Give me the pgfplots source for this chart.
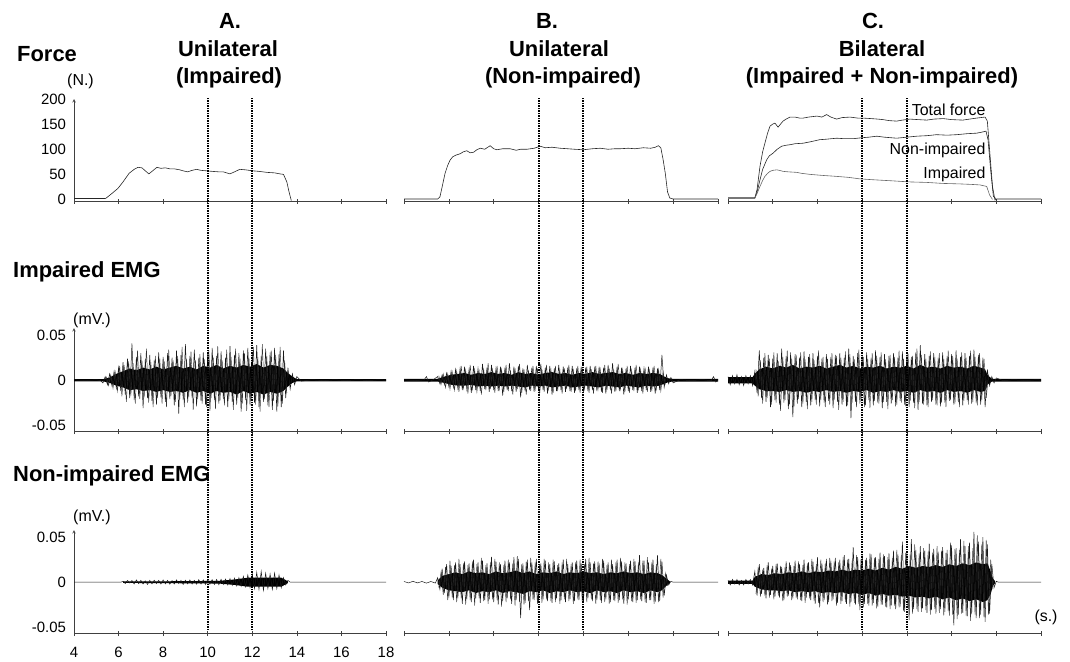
\documentclass[border=0pt]{standalone}
\usepackage{pgfplots}
\pgfplotsset{compat=1.18}
\usepackage{pgfplotstable}
\usepackage{fontspec}
\setmainfont{Liberation Sans}

% ---------------- Force data (N) ----------------
\pgfplotstableread[row sep=\\]{x y\\
4 2\\ 5.4 2\\ 5.45 3\\ 5.7 12\\ 5.97 22\\ 6.2 35\\ 6.47 52\\ 6.7 60\\ 6.87 64\\ 7.05 63\\ 7.2 57\\ 7.36 51\\ 7.5 56\\ 7.72 64\\ 7.9 62\\ 8.1 63\\ 8.3 61\\ 8.5 61\\ 8.75 59\\ 8.9 57\\ 9.1 55\\ 9.3 58\\ 9.5 60\\ 9.7 58\\ 9.95 57\\ 10.2 56\\ 10.5 55\\ 10.7 55\\ 11.0 51\\ 11.2 55\\ 11.44 60\\ 11.7 59\\ 12.03 57\\ 12.3 56\\ 12.65 54\\ 13.0 53\\ 13.24 51\\ 13.4 50\\ 13.55 35\\ 13.65 15\\ 13.75 -2\\
}\fA
\pgfplotstableread[row sep=\\]{x y\\
4 1\\ 5.5 1\\ 5.6 5\\ 5.7 25\\ 5.83 52\\ 5.95 68\\ 6.05 78\\ 6.17 85\\ 6.3 88\\ 6.5 91\\ 6.65 95\\ 6.8 97\\ 6.95 93\\ 7.1 94\\ 7.25 99\\ 7.4 102\\ 7.6 100\\ 7.84 107\\ 8.0 101\\ 8.14 99\\ 8.4 101\\ 8.73 101\\ 9.0 98\\ 9.2 100\\ 9.48 100\\ 9.8 102\\ 10.07 106\\ 10.3 103\\ 10.6 104\\ 10.96 102\\ 11.3 101\\ 11.6 100\\ 12.0 99\\ 12.4 101\\ 12.75 102\\ 13.1 100\\ 13.4 101\\ 13.64 101\\ 14.0 102\\ 14.3 101\\ 14.67 103\\ 15.0 102\\ 15.2 104\\ 15.34 107\\ 15.45 103\\ 15.55 80\\ 15.65 52\\ 15.75 15\\ 15.85 3\\ 16.0 1\\ 18 1\\
}\fB
\pgfplotstableread[row sep=\\]{x y\\
4 3\\ 5.2 3\\ 5.3 20\\ 5.43 66\\ 5.55 95\\ 5.65 112\\ 5.77 132\\ 5.88 146\\ 6.0 150\\ 6.1 152\\ 6.24 144\\ 6.35 150\\ 6.46 156\\ 6.6 160\\ 6.77 164\\ 7.0 164\\ 7.2 162\\ 7.36 162\\ 7.6 164\\ 7.98 166\\ 8.2 164\\ 8.41 169\\ 8.6 164\\ 8.86 160\\ 9.1 163\\ 9.46 164\\ 9.8 162\\ 10.04 162\\ 10.4 161\\ 10.7 160\\ 10.93 159\\ 11.2 157\\ 11.54 156\\ 11.8 158\\ 12.14 160\\ 12.5 159\\ 12.89 158\\ 13.2 160\\ 13.63 161\\ 14.0 159\\ 14.5 158\\ 14.8 160\\ 15.12 162\\ 15.3 163\\ 15.5 164\\ 15.6 156\\ 15.7 99\\ 15.83 26\\ 15.94 -1\\ 16.03 1\\ 18 1\\
}\fCtot
\pgfplotstableread[row sep=\\]{x y\\
4 3\\ 5.2 3\\ 5.3 15\\ 5.43 39\\ 5.55 60\\ 5.73 79\\ 5.85 87\\ 6.01 92\\ 6.2 100\\ 6.4 106\\ 6.6 108\\ 6.77 109\\ 7.0 111\\ 7.36 112\\ 7.7 115\\ 8.1 119\\ 8.4 120\\ 8.86 122\\ 9.2 121\\ 9.6 121\\ 10.0 123\\ 10.3 124\\ 10.65 126\\ 11.0 124\\ 11.54 122\\ 12.0 124\\ 12.44 126\\ 12.9 127\\ 13.33 129\\ 13.8 128\\ 14.23 129\\ 14.7 131\\ 15.12 132\\ 15.35 134\\ 15.54 136\\ 15.63 119\\ 15.76 53\\ 15.87 6\\ 16.0 1\\
}\fCnon
\pgfplotstableread[row sep=\\]{x y\\
4 3\\ 5.2 3\\ 5.3 12\\ 5.43 26\\ 5.55 38\\ 5.65 46\\ 5.77 52\\ 5.88 56\\ 6.0 58\\ 6.18 59\\ 6.3 58\\ 6.46 56\\ 6.7 55\\ 7.07 54\\ 7.3 52\\ 7.67 50\\ 8.2 48\\ 8.86 46\\ 9.4 44\\ 9.9 41\\ 10.6 39\\ 11.4 37\\ 12.1 35\\ 12.89 34\\ 13.6 32\\ 14.38 31\\ 14.9 30\\ 15.27 29\\ 15.57 26\\ 15.7 9\\ 15.83 0\\
}\fCimp

% ---------------- Impaired EMG (mV) ----------------
\pgfplotstableread[row sep=\\]{x y\\
4.0 0.0005\\ 4.5 -0.0005\\ 5.0 0.0005\\ 5.2 -0.0005\\
5.3 -0.003\\ 5.4 0.004\\ 5.5 -0.005\\ 5.6 0.007\\ 5.7 -0.006\\ 5.8 0.01\\ 5.9 -0.009\\ 6.0 0.014\\ 6.1 -0.012\\ 6.2 0.02\\ 6.3 -0.016\\ 6.4 0.024\\ 6.5 -0.02\\ 6.6 0.041\\ 6.7 -0.022\\ 6.8 0.026\\ 6.9 -0.018\\ 7.0 0.03\\ 7.1 -0.031\\ 7.2 0.024\\ 7.3 -0.02\\ 7.4 0.028\\ 7.5 -0.023\\ 7.6 0.022\\ 7.7 -0.027\\ 7.8 0.031\\ 7.9 -0.019\\ 8.0 0.026\\ 8.1 -0.024\\ 8.2 0.03\\ 8.3 -0.021\\ 8.4 0.025\\ 8.5 -0.028\\ 8.6 0.033\\ 8.7 -0.037\\ 8.8 0.028\\ 8.9 -0.022\\ 9.0 0.04\\ 9.1 -0.025\\ 9.2 0.027\\ 9.3 -0.02\\ 9.4 0.034\\ 9.5 -0.029\\ 9.6 0.025\\ 9.7 -0.023\\ 9.8 0.031\\ 9.9 -0.027\\ 10.0 0.029\\ 10.1 -0.034\\ 10.2 0.036\\ 10.3 -0.022\\ 10.4 0.027\\ 10.5 -0.026\\ 10.6 0.032\\ 10.7 -0.021\\ 10.8 0.025\\ 10.9 -0.03\\ 11.0 0.038\\ 11.1 -0.024\\ 11.2 0.028\\ 11.3 -0.027\\ 11.4 0.03\\ 11.5 -0.035\\ 11.6 0.033\\ 11.7 -0.022\\ 11.8 0.036\\ 11.9 -0.028\\ 12.0 0.03\\ 12.1 -0.025\\ 12.2 0.039\\ 12.3 -0.03\\ 12.4 0.027\\ 12.5 -0.024\\ 12.6 0.035\\ 12.7 -0.028\\ 12.8 0.031\\ 12.9 -0.033\\ 13.0 0.036\\ 13.1 -0.035\\ 13.2 0.029\\ 13.3 -0.03\\ 13.4 0.033\\ 13.5 -0.02\\ 13.6 0.014\\ 13.7 -0.01\\ 13.8 0.007\\ 13.9 -0.005\\ 14.0 0.004\\
14.2 -0.001\\ 14.7 0.0005\\ 15.2 -0.0005\\ 15.7 0.0005\\ 16.2 -0.0005\\ 16.7 0.0005\\ 17.2 -0.0005\\ 17.7 0.0005\\ 18.0 0\\
}\eAii
\pgfplotstableread[row sep=\\]{x y\\
5.45 0.004\\ 5.55 -0.006\\ 5.65 0.006\\ 5.75 -0.009\\ 5.85 0.009\\ 5.95 -0.012\\ 6.05 0.016\\ 6.15 -0.018\\ 6.25 0.017\\ 6.35 -0.024\\ 6.45 0.021\\ 6.55 -0.017\\ 6.65 0.019\\ 6.75 -0.026\\ 6.85 0.033\\ 6.95 -0.021\\ 7.05 0.022\\ 7.15 -0.019\\ 7.25 0.035\\ 7.35 -0.025\\ 7.45 0.02\\ 7.55 -0.03\\ 7.65 0.027\\ 7.75 -0.02\\ 7.85 0.024\\ 7.95 -0.026\\ 8.05 0.021\\ 8.15 -0.03\\ 8.25 0.034\\ 8.35 -0.018\\ 8.45 0.022\\ 8.55 -0.024\\ 8.65 0.027\\ 8.75 -0.021\\ 8.85 0.037\\ 8.95 -0.03\\ 9.05 0.024\\ 9.15 -0.019\\ 9.25 0.032\\ 9.35 -0.033\\ 9.45 0.022\\ 9.55 -0.021\\ 9.65 0.029\\ 9.75 -0.026\\ 9.85 0.023\\ 9.95 -0.03\\ 10.05 0.033\\ 10.15 -0.02\\ 10.25 0.025\\ 10.35 -0.032\\ 10.45 0.038\\ 10.55 -0.023\\ 10.65 0.022\\ 10.75 -0.028\\ 10.85 0.034\\ 10.95 -0.021\\ 11.05 0.026\\ 11.15 -0.033\\ 11.25 0.035\\ 11.35 -0.02\\ 11.45 0.024\\ 11.55 -0.026\\ 11.65 0.03\\ 11.75 -0.034\\ 11.85 0.025\\ 11.95 -0.022\\ 12.05 0.037\\ 12.15 -0.027\\ 12.25 0.026\\ 12.35 -0.035\\ 12.45 0.04\\ 12.55 -0.021\\ 12.65 0.027\\ 12.75 -0.03\\ 12.85 0.033\\ 12.95 -0.023\\ 13.05 0.028\\ 13.15 -0.029\\ 13.25 0.037\\ 13.35 -0.026\\ 13.45 0.022\\ 13.55 -0.014\\
}\eAiiB
\pgfplotstableread[row sep=\\]{x y\\
4.0 0.0012\\ 5.3 0.0012\\ 5.6 0.003\\ 5.9 0.007\\ 6.2 0.01\\ 6.5 0.013\\ 6.8 0.011\\ 7.1 0.014\\ 7.4 0.012\\ 7.7 0.015\\ 8.0 0.012\\ 8.3 0.014\\ 8.6 0.016\\ 8.9 0.013\\ 9.2 0.015\\ 9.5 0.012\\ 9.8 0.016\\ 10.1 0.014\\ 10.4 0.017\\ 10.7 0.013\\ 11.0 0.016\\ 11.3 0.014\\ 11.6 0.017\\ 11.9 0.015\\ 12.2 0.018\\ 12.5 0.014\\ 12.8 0.017\\ 13.1 0.016\\ 13.4 0.013\\ 13.6 0.008\\ 13.8 0.004\\ 14.0 0.0012\\ 18.0 0.0012\\
18.0 -0.0012\\ 14.0 -0.0012\\ 13.8 -0.003\\ 13.6 -0.007\\ 13.4 -0.012\\ 13.1 -0.015\\ 12.8 -0.013\\ 12.5 -0.016\\ 12.2 -0.013\\ 11.9 -0.015\\ 11.6 -0.012\\ 11.3 -0.016\\ 11.0 -0.013\\ 10.7 -0.014\\ 10.4 -0.012\\ 10.1 -0.015\\ 9.8 -0.012\\ 9.5 -0.014\\ 9.2 -0.011\\ 8.9 -0.014\\ 8.6 -0.012\\ 8.3 -0.013\\ 8.0 -0.011\\ 7.7 -0.013\\ 7.4 -0.011\\ 7.1 -0.012\\ 6.8 -0.01\\ 6.5 -0.011\\ 6.2 -0.008\\ 5.9 -0.006\\ 5.6 -0.003\\ 5.3 -0.0012\\ 4.0 -0.0012\\
}\bAii
\pgfplotstableread[row sep=\\]{x y\\
4.0 0.0005\\ 4.5 -0.0005\\ 4.9 0.0005\\ 5.0 0.004\\ 5.1 -0.002\\ 5.3 0.0005\\
5.5 0.004\\ 5.6 -0.004\\ 5.7 0.006\\ 5.8 -0.005\\ 5.9 0.008\\ 6.0 -0.007\\ 6.1 0.01\\ 6.2 -0.008\\ 6.3 0.012\\ 6.4 -0.009\\ 6.5 0.013\\ 6.6 -0.011\\ 6.7 0.015\\ 6.8 -0.01\\ 6.9 0.012\\ 7.0 -0.014\\ 7.1 0.016\\ 7.2 -0.011\\ 7.3 0.013\\ 7.4 -0.012\\ 7.5 0.018\\ 7.6 -0.01\\ 7.7 0.014\\ 7.8 -0.013\\ 7.9 0.017\\ 8.0 -0.011\\ 8.1 0.013\\ 8.2 -0.012\\ 8.3 0.015\\ 8.4 -0.017\\ 8.5 0.014\\ 8.6 -0.011\\ 8.7 0.019\\ 8.8 -0.012\\ 8.9 0.015\\ 9.0 -0.013\\ 9.1 0.016\\ 9.2 -0.019\\ 9.3 0.013\\ 9.4 -0.012\\ 9.5 0.017\\ 9.6 -0.011\\ 9.7 0.014\\ 9.8 -0.013\\ 9.9 0.016\\ 10.0 -0.012\\ 10.1 0.018\\ 10.2 -0.011\\ 10.3 0.014\\ 10.4 -0.015\\ 10.5 0.016\\ 10.6 -0.016\\ 10.7 0.013\\ 10.8 -0.012\\ 10.9 0.017\\ 11.0 -0.011\\ 11.1 0.015\\ 11.2 -0.013\\ 11.3 0.014\\ 11.4 -0.012\\ 11.5 0.016\\ 11.6 -0.014\\ 11.7 0.013\\ 11.8 -0.011\\ 11.9 0.015\\ 12.0 -0.013\\ 12.1 0.014\\ 12.2 -0.012\\ 12.3 0.016\\ 12.4 -0.011\\ 12.5 0.013\\ 12.6 -0.012\\ 12.7 0.015\\ 12.8 -0.013\\ 12.9 0.014\\ 13.0 -0.015\\ 13.1 0.017\\ 13.2 -0.011\\ 13.3 0.019\\ 13.4 -0.013\\ 13.5 0.015\\ 13.6 -0.012\\ 13.7 0.014\\ 13.8 -0.016\\ 13.9 0.013\\ 14.0 -0.012\\ 14.1 0.016\\ 14.2 -0.011\\ 14.3 0.014\\ 14.4 -0.014\\ 14.5 0.015\\ 14.6 -0.012\\ 14.7 0.013\\ 14.8 -0.011\\ 14.9 0.015\\ 15.0 -0.013\\ 15.1 0.014\\ 15.2 -0.015\\ 15.3 0.013\\ 15.4 -0.011\\ 15.5 0.028\\ 15.6 -0.008\\ 15.7 0.006\\ 15.8 -0.004\\ 15.9 0.003\\ 16.0 -0.003\\
16.3 0.0005\\ 16.8 -0.0005\\ 17.3 0.0005\\ 17.7 -0.0005\\ 17.8 0.004\\ 17.9 -0.002\\ 18.0 0.0005\\
}\eBii
\pgfplotstableread[row sep=\\]{x y\\
5.55 0.005\\ 5.65 -0.005\\ 5.75 0.007\\ 5.85 -0.008\\ 5.95 0.007\\ 6.05 -0.01\\ 6.15 0.009\\ 6.25 -0.011\\ 6.35 0.01\\ 6.45 -0.013\\ 6.55 0.016\\ 6.65 -0.009\\ 6.75 0.011\\ 6.85 -0.015\\ 6.95 0.017\\ 7.05 -0.01\\ 7.15 0.012\\ 7.25 -0.013\\ 7.35 0.01\\ 7.45 -0.016\\ 7.55 0.013\\ 7.65 -0.011\\ 7.75 0.019\\ 7.85 -0.01\\ 7.95 0.012\\ 8.05 -0.014\\ 8.15 0.016\\ 8.25 -0.01\\ 8.35 0.012\\ 8.45 -0.013\\ 8.55 0.017\\ 8.65 -0.012\\ 8.75 0.011\\ 8.85 -0.016\\ 8.95 0.013\\ 9.05 -0.01\\ 9.15 0.018\\ 9.25 -0.014\\ 9.35 0.012\\ 9.45 -0.016\\ 9.55 0.011\\ 9.65 -0.012\\ 9.75 0.016\\ 9.85 -0.01\\ 9.95 0.013\\ 10.05 -0.015\\ 10.15 0.012\\ 10.25 -0.013\\ 10.35 0.017\\ 10.45 -0.01\\ 10.55 0.012\\ 10.65 -0.014\\ 10.75 0.016\\ 10.85 -0.012\\ 10.95 0.011\\ 11.05 -0.015\\ 11.15 0.013\\ 11.25 -0.01\\ 11.35 0.017\\ 11.45 -0.013\\ 11.55 0.011\\ 11.65 -0.012\\ 11.75 0.016\\ 11.85 -0.014\\ 11.95 0.012\\ 12.05 -0.01\\ 12.15 0.015\\ 12.25 -0.014\\ 12.35 0.012\\ 12.45 -0.015\\ 12.55 0.016\\ 12.65 -0.01\\ 12.75 0.012\\ 12.85 -0.014\\ 12.95 0.017\\ 13.05 -0.011\\ 13.15 0.013\\ 13.25 -0.015\\ 13.35 0.012\\ 13.45 -0.012\\ 13.55 0.018\\ 13.65 -0.01\\ 13.75 0.012\\ 13.85 -0.013\\ 13.95 0.016\\ 14.05 -0.014\\ 14.15 0.011\\ 14.25 -0.012\\ 14.35 0.017\\ 14.45 -0.01\\ 14.55 0.012\\ 14.65 -0.015\\ 14.75 0.014\\ 14.85 -0.013\\ 14.95 0.011\\ 15.05 -0.012\\ 15.15 0.016\\ 15.25 -0.01\\ 15.35 0.012\\ 15.45 -0.012\\ 15.55 0.009\\ 15.65 -0.005\\
}\eBiiB
\pgfplotstableread[row sep=\\]{x y\\
4.0 0.0015\\ 5.5 0.0015\\ 5.8 0.004\\ 6.1 0.006\\ 6.4 0.007\\ 6.7 0.008\\ 7.0 0.006\\ 7.3 0.008\\ 7.6 0.007\\ 7.9 0.009\\ 8.2 0.007\\ 8.5 0.008\\ 8.8 0.006\\ 9.1 0.009\\ 9.4 0.007\\ 9.7 0.008\\ 10.0 0.006\\ 10.3 0.008\\ 10.6 0.009\\ 10.9 0.007\\ 11.2 0.008\\ 11.5 0.006\\ 11.8 0.008\\ 12.1 0.007\\ 12.4 0.009\\ 12.7 0.007\\ 13.0 0.008\\ 13.3 0.009\\ 13.6 0.007\\ 13.9 0.008\\ 14.2 0.006\\ 14.5 0.008\\ 14.8 0.007\\ 15.1 0.008\\ 15.4 0.007\\ 15.6 0.004\\ 15.8 0.002\\ 16.0 0.0015\\ 18.0 0.0015\\
18.0 -0.0015\\ 16.0 -0.0015\\ 15.8 -0.002\\ 15.6 -0.004\\ 15.4 -0.006\\ 15.1 -0.007\\ 14.8 -0.006\\ 14.5 -0.008\\ 14.2 -0.007\\ 13.9 -0.006\\ 13.6 -0.008\\ 13.3 -0.007\\ 13.0 -0.006\\ 12.7 -0.008\\ 12.4 -0.007\\ 12.1 -0.006\\ 11.8 -0.007\\ 11.5 -0.008\\ 11.2 -0.006\\ 10.9 -0.007\\ 10.6 -0.008\\ 10.3 -0.006\\ 10.0 -0.007\\ 9.7 -0.006\\ 9.4 -0.008\\ 9.1 -0.007\\ 8.8 -0.006\\ 8.5 -0.007\\ 8.2 -0.006\\ 7.9 -0.007\\ 7.6 -0.006\\ 7.3 -0.007\\ 7.0 -0.005\\ 6.7 -0.006\\ 6.4 -0.006\\ 6.1 -0.005\\ 5.8 -0.003\\ 5.5 -0.0015\\ 4.0 -0.0015\\
}\bBii
\pgfplotstableread[row sep=\\]{x y\\
4.0 0.004\\ 4.1 -0.005\\ 4.2 0.005\\ 4.3 -0.004\\ 4.4 0.006\\ 4.5 -0.005\\ 4.6 0.004\\ 4.7 -0.006\\ 4.8 0.005\\ 4.9 -0.004\\ 5.0 0.005\\ 5.1 -0.006\\
5.2 0.01\\ 5.3 -0.014\\ 5.4 0.033\\ 5.5 -0.02\\ 5.6 0.025\\ 5.7 -0.024\\ 5.8 0.028\\ 5.9 -0.03\\ 6.0 0.024\\ 6.1 -0.022\\ 6.2 0.03\\ 6.3 -0.027\\ 6.4 0.035\\ 6.5 -0.025\\ 6.6 0.027\\ 6.7 -0.032\\ 6.8 0.031\\ 6.9 -0.041\\ 7.0 0.029\\ 7.1 -0.026\\ 7.2 0.025\\ 7.3 -0.03\\ 7.4 0.032\\ 7.5 -0.024\\ 7.6 0.026\\ 7.7 -0.028\\ 7.8 0.03\\ 7.9 -0.022\\ 8.0 0.027\\ 8.1 -0.029\\ 8.2 0.024\\ 8.3 -0.025\\ 8.4 0.029\\ 8.5 -0.023\\ 8.6 0.026\\ 8.7 -0.031\\ 8.8 0.028\\ 8.9 -0.024\\ 9.0 0.03\\ 9.1 -0.027\\ 9.2 0.025\\ 9.3 -0.029\\ 9.4 0.035\\ 9.5 -0.042\\ 9.6 0.027\\ 9.7 -0.024\\ 9.8 0.03\\ 9.9 -0.026\\ 10.0 0.028\\ 10.1 -0.03\\ 10.2 0.031\\ 10.3 -0.022\\ 10.4 0.025\\ 10.5 -0.028\\ 10.6 0.033\\ 10.7 -0.025\\ 10.8 0.026\\ 10.9 -0.031\\ 11.0 0.029\\ 11.1 -0.024\\ 11.2 0.027\\ 11.3 -0.026\\ 11.4 0.03\\ 11.5 -0.029\\ 11.6 0.025\\ 11.7 -0.023\\ 11.8 0.032\\ 11.9 -0.027\\ 12.0 0.028\\ 12.1 -0.03\\ 12.2 0.026\\ 12.3 -0.025\\ 12.4 0.031\\ 12.5 -0.033\\ 12.6 0.039\\ 12.7 -0.026\\ 12.8 0.029\\ 12.9 -0.028\\ 13.0 0.027\\ 13.1 -0.024\\ 13.2 0.03\\ 13.3 -0.027\\ 13.4 0.025\\ 13.5 -0.029\\ 13.6 0.031\\ 13.7 -0.025\\ 13.8 0.027\\ 13.9 -0.023\\ 14.0 0.029\\ 14.1 -0.027\\ 14.2 0.033\\ 14.3 -0.024\\ 14.4 0.026\\ 14.5 -0.028\\ 14.6 0.03\\ 14.7 -0.022\\ 14.8 0.027\\ 14.9 -0.026\\ 15.0 0.034\\ 15.1 -0.025\\ 15.2 0.028\\ 15.3 -0.027\\ 15.4 0.025\\ 15.5 -0.03\\ 15.6 0.012\\ 15.7 -0.006\\ 15.8 0.004\\ 15.9 -0.003\\ 16.0 0.0025\\
16.3 -0.0005\\ 16.8 0.0005\\ 17.3 -0.0005\\ 17.8 0.0005\\ 18.0 0\\
}\eCii
\pgfplotstableread[row sep=\\]{x y\\
5.25 0.012\\ 5.35 -0.018\\ 5.45 0.022\\ 5.55 -0.026\\ 5.65 0.03\\ 5.75 -0.02\\ 5.85 0.024\\ 5.95 -0.027\\ 6.05 0.031\\ 6.15 -0.025\\ 6.25 0.021\\ 6.35 -0.034\\ 6.45 0.026\\ 6.55 -0.022\\ 6.65 0.033\\ 6.75 -0.027\\ 6.85 0.024\\ 6.95 -0.03\\ 7.05 0.028\\ 7.15 -0.021\\ 7.25 0.031\\ 7.35 -0.026\\ 7.45 0.023\\ 7.55 -0.032\\ 7.65 0.029\\ 7.75 -0.024\\ 7.85 0.022\\ 7.95 -0.027\\ 8.05 0.033\\ 8.15 -0.022\\ 8.25 0.026\\ 8.35 -0.03\\ 8.45 0.024\\ 8.55 -0.027\\ 8.65 0.03\\ 8.75 -0.022\\ 8.85 0.027\\ 8.95 -0.033\\ 9.05 0.025\\ 9.15 -0.024\\ 9.25 0.032\\ 9.35 -0.028\\ 9.45 0.029\\ 9.55 -0.025\\ 9.65 0.023\\ 9.75 -0.03\\ 9.85 0.034\\ 9.95 -0.022\\ 10.05 0.026\\ 10.15 -0.028\\ 10.25 0.024\\ 10.35 -0.031\\ 10.45 0.03\\ 10.55 -0.023\\ 10.65 0.027\\ 10.75 -0.026\\ 10.85 0.031\\ 10.95 -0.024\\ 11.05 0.023\\ 11.15 -0.032\\ 11.25 0.028\\ 11.35 -0.022\\ 11.45 0.026\\ 11.55 -0.027\\ 11.65 0.033\\ 11.75 -0.025\\ 11.85 0.024\\ 11.95 -0.029\\ 12.05 0.03\\ 12.15 -0.023\\ 12.25 0.027\\ 12.35 -0.031\\ 12.45 0.035\\ 12.55 -0.024\\ 12.65 0.028\\ 12.75 -0.027\\ 12.85 0.024\\ 12.95 -0.03\\ 13.05 0.032\\ 13.15 -0.022\\ 13.25 0.026\\ 13.35 -0.028\\ 13.45 0.03\\ 13.55 -0.025\\ 13.65 0.024\\ 13.75 -0.03\\ 13.85 0.033\\ 13.95 -0.022\\ 14.05 0.027\\ 14.15 -0.026\\ 14.25 0.024\\ 14.35 -0.03\\ 14.45 0.031\\ 14.55 -0.023\\ 14.65 0.025\\ 14.75 -0.027\\ 14.85 0.033\\ 14.95 -0.024\\ 15.05 0.026\\ 15.15 -0.028\\ 15.25 0.03\\ 15.35 -0.022\\ 15.45 0.024\\ 15.55 -0.02\\ 15.65 0.006\\
}\eCiiB
\pgfplotstableread[row sep=\\]{x y\\
4.0 0.0035\\ 5.1 0.0035\\ 5.2 0.007\\ 5.4 0.012\\ 5.7 0.015\\ 6.0 0.013\\ 6.3 0.016\\ 6.6 0.014\\ 6.9 0.017\\ 7.2 0.013\\ 7.5 0.015\\ 7.8 0.014\\ 8.1 0.016\\ 8.4 0.013\\ 8.7 0.015\\ 9.0 0.017\\ 9.3 0.014\\ 9.6 0.016\\ 9.9 0.013\\ 10.2 0.015\\ 10.5 0.014\\ 10.8 0.016\\ 11.1 0.013\\ 11.4 0.015\\ 11.7 0.014\\ 12.0 0.016\\ 12.3 0.013\\ 12.6 0.017\\ 12.9 0.014\\ 13.2 0.015\\ 13.5 0.013\\ 13.8 0.016\\ 14.1 0.014\\ 14.4 0.015\\ 14.7 0.013\\ 15.0 0.016\\ 15.3 0.014\\ 15.5 0.012\\ 15.6 0.006\\ 15.8 0.0015\\ 18.0 0.0015\\
18.0 -0.0015\\ 15.8 -0.0015\\ 15.6 -0.005\\ 15.5 -0.012\\ 15.3 -0.013\\ 15.0 -0.011\\ 14.7 -0.014\\ 14.4 -0.012\\ 14.1 -0.013\\ 13.8 -0.011\\ 13.5 -0.014\\ 13.2 -0.012\\ 12.9 -0.013\\ 12.6 -0.011\\ 12.3 -0.014\\ 12.0 -0.012\\ 11.7 -0.013\\ 11.4 -0.011\\ 11.1 -0.013\\ 10.8 -0.012\\ 10.5 -0.014\\ 10.2 -0.011\\ 9.9 -0.013\\ 9.6 -0.012\\ 9.3 -0.014\\ 9.0 -0.012\\ 8.7 -0.013\\ 8.4 -0.011\\ 8.1 -0.013\\ 7.8 -0.012\\ 7.5 -0.014\\ 7.2 -0.012\\ 6.9 -0.013\\ 6.6 -0.011\\ 6.3 -0.013\\ 6.0 -0.012\\ 5.7 -0.012\\ 5.4 -0.01\\ 5.2 -0.006\\ 5.1 -0.0035\\ 4.0 -0.0035\\
}\bCii

% ---------------- Non-impaired EMG (mV) ----------------
\pgfplotstableread[row sep=\\]{x y\\
4.0 0\\ 6.1 0\\ 6.2 0.001\\ 6.3 -0.0015\\ 6.4 0.002\\ 6.5 -0.001\\ 6.6 0.0018\\ 6.7 -0.002\\ 6.8 0.0025\\ 6.9 -0.0015\\ 7.0 0.002\\ 7.1 -0.002\\ 7.2 0.0015\\ 7.3 -0.0025\\ 7.4 0.002\\ 7.5 -0.0018\\ 7.6 0.0022\\ 7.7 -0.0015\\ 7.8 0.002\\ 7.9 -0.002\\ 8.0 0.0025\\ 8.1 -0.0018\\ 8.2 0.002\\ 8.3 -0.0022\\ 8.4 0.0018\\ 8.5 -0.002\\ 8.6 0.0025\\ 8.7 -0.0015\\ 8.8 0.002\\ 8.9 -0.0025\\ 9.0 0.0022\\ 9.1 -0.0018\\ 9.2 0.0025\\ 9.3 -0.002\\ 9.4 0.002\\ 9.5 -0.0022\\ 9.6 0.0028\\ 9.7 -0.002\\ 9.8 0.0025\\ 9.9 -0.0025\\ 10.0 0.003\\ 10.1 -0.0022\\ 10.2 0.0028\\ 10.3 -0.0025\\ 10.4 0.003\\ 10.5 -0.0028\\ 10.6 0.0032\\ 10.7 -0.0025\\ 10.8 0.0035\\ 10.9 -0.003\\ 11.0 0.004\\ 11.1 -0.0035\\ 11.2 0.0045\\ 11.3 -0.004\\ 11.4 0.005\\ 11.5 -0.0045\\ 11.6 0.0065\\ 11.7 -0.005\\ 11.8 0.008\\ 11.9 -0.006\\ 12.0 0.009\\ 12.1 -0.007\\ 12.2 0.011\\ 12.3 -0.008\\ 12.4 0.012\\ 12.5 -0.009\\ 12.6 0.01\\ 12.7 -0.007\\ 12.8 0.009\\ 12.9 -0.008\\ 13.0 0.01\\ 13.1 -0.007\\ 13.2 0.008\\ 13.3 -0.006\\ 13.4 0.005\\ 13.5 -0.003\\ 13.6 0.002\\ 13.7 0\\ 18.0 0\\
}\eAiii
\pgfplotstableread[row sep=\\]{x y\\
6.2 0.0008\\ 8.0 0.001\\ 10.5 0.0015\\ 11.2 0.003\\ 11.8 0.005\\ 13.3 0.005\\ 13.6 0.001\\
13.6 -0.001\\ 13.3 -0.005\\ 11.8 -0.005\\ 11.2 -0.003\\ 10.5 -0.0015\\ 8.0 -0.001\\ 6.2 -0.0008\\
}\bAiii
\pgfplotstableread[row sep=\\]{x y\\
4.0 0.0008\\ 4.2 -0.0008\\ 4.4 0.001\\ 4.6 -0.0008\\ 4.8 0.0008\\ 5.0 -0.001\\ 5.2 0.0008\\ 5.4 -0.001\\
5.5 0.005\\ 5.6 -0.008\\ 5.7 0.015\\ 5.8 -0.012\\ 5.9 0.02\\ 6.0 -0.017\\ 6.1 0.018\\ 6.2 -0.02\\ 6.3 0.022\\ 6.4 -0.018\\ 6.5 0.02\\ 6.6 -0.024\\ 6.7 0.023\\ 6.8 -0.019\\ 6.9 0.021\\ 7.0 -0.022\\ 7.1 0.025\\ 7.2 -0.018\\ 7.3 0.022\\ 7.4 -0.023\\ 7.5 0.024\\ 7.6 -0.02\\ 7.7 0.021\\ 7.8 -0.019\\ 7.9 0.028\\ 8.0 -0.022\\ 8.1 0.023\\ 8.2 -0.025\\ 8.3 0.02\\ 8.4 -0.021\\ 8.5 0.024\\ 8.6 -0.018\\ 8.7 0.022\\ 8.8 -0.024\\ 8.9 0.028\\ 9.0 -0.02\\ 9.1 0.026\\ 9.2 -0.04\\ 9.3 0.021\\ 9.4 -0.023\\ 9.5 0.025\\ 9.6 -0.031\\ 9.7 0.022\\ 9.8 -0.02\\ 9.9 0.026\\ 10.0 -0.022\\ 10.1 0.021\\ 10.2 -0.019\\ 10.3 0.024\\ 10.4 -0.021\\ 10.5 0.02\\ 10.6 -0.023\\ 10.7 0.023\\ 10.8 -0.018\\ 10.9 0.021\\ 11.0 -0.02\\ 11.1 0.025\\ 11.2 -0.022\\ 11.3 0.02\\ 11.4 -0.019\\ 11.5 0.022\\ 11.6 -0.021\\ 11.7 0.024\\ 11.8 -0.02\\ 11.9 0.021\\ 12.0 -0.022\\ 12.1 0.026\\ 12.2 -0.018\\ 12.3 0.022\\ 12.4 -0.021\\ 12.5 0.023\\ 12.6 -0.02\\ 12.7 0.021\\ 12.8 -0.023\\ 12.9 0.024\\ 13.0 -0.019\\ 13.1 0.022\\ 13.2 -0.022\\ 13.3 0.02\\ 13.4 -0.021\\ 13.5 0.025\\ 13.6 -0.02\\ 13.7 0.023\\ 13.8 -0.024\\ 13.9 0.021\\ 14.0 -0.019\\ 14.1 0.024\\ 14.2 -0.022\\ 14.3 0.023\\ 14.4 -0.02\\ 14.5 0.03\\ 14.6 -0.021\\ 14.7 0.024\\ 14.8 -0.023\\ 14.9 0.022\\ 15.0 -0.02\\ 15.1 0.025\\ 15.2 -0.022\\ 15.3 0.03\\ 15.4 -0.021\\ 15.5 0.023\\ 15.6 -0.015\\ 15.7 0.008\\ 15.8 -0.003\\ 15.9 0.001\\ 16.0 0\\ 18.0 0\\
}\eBiii
\pgfplotstableread[row sep=\\]{x y\\
5.55 -0.006\\ 5.65 0.011\\ 5.75 -0.014\\ 5.85 0.017\\ 5.95 -0.02\\ 6.05 0.024\\ 6.15 -0.017\\ 6.25 0.019\\ 6.35 -0.022\\ 6.45 0.026\\ 6.55 -0.018\\ 6.65 0.021\\ 6.75 -0.025\\ 6.85 0.019\\ 6.95 -0.02\\ 7.05 0.023\\ 7.15 -0.026\\ 7.25 0.02\\ 7.35 -0.018\\ 7.45 0.027\\ 7.55 -0.021\\ 7.65 0.019\\ 7.75 -0.024\\ 7.85 0.022\\ 7.95 -0.019\\ 8.05 0.026\\ 8.15 -0.02\\ 8.25 0.022\\ 8.35 -0.027\\ 8.45 0.019\\ 8.55 -0.022\\ 8.65 0.025\\ 8.75 -0.019\\ 8.85 0.021\\ 8.95 -0.026\\ 9.05 0.029\\ 9.15 -0.022\\ 9.25 0.02\\ 9.35 -0.025\\ 9.45 0.023\\ 9.55 -0.021\\ 9.65 0.027\\ 9.75 -0.019\\ 9.85 0.022\\ 9.95 -0.024\\ 10.05 0.02\\ 10.15 -0.023\\ 10.25 0.026\\ 10.35 -0.019\\ 10.45 0.022\\ 10.55 -0.021\\ 10.65 0.025\\ 10.75 -0.022\\ 10.85 0.019\\ 10.95 -0.024\\ 11.05 0.022\\ 11.15 -0.019\\ 11.25 0.026\\ 11.35 -0.021\\ 11.45 0.02\\ 11.55 -0.024\\ 11.65 0.022\\ 11.75 -0.019\\ 11.85 0.025\\ 11.95 -0.023\\ 12.05 0.02\\ 12.15 -0.022\\ 12.25 0.027\\ 12.35 -0.019\\ 12.45 0.021\\ 12.55 -0.024\\ 12.65 0.023\\ 12.75 -0.02\\ 12.85 0.026\\ 12.95 -0.022\\ 13.05 0.019\\ 13.15 -0.024\\ 13.25 0.025\\ 13.35 -0.02\\ 13.45 0.022\\ 13.55 -0.023\\ 13.65 0.027\\ 13.75 -0.019\\ 13.85 0.022\\ 13.95 -0.025\\ 14.05 0.02\\ 14.15 -0.021\\ 14.25 0.026\\ 14.35 -0.023\\ 14.45 0.022\\ 14.55 -0.019\\ 14.65 0.024\\ 14.75 -0.022\\ 14.85 0.028\\ 14.95 -0.02\\ 15.05 0.022\\ 15.15 -0.024\\ 15.25 0.02\\ 15.35 -0.022\\ 15.45 0.026\\ 15.55 -0.017\\ 15.65 0.01\\ 15.75 -0.004\\
}\eBiiiB
\pgfplotstableread[row sep=\\]{x y\\
5.5 0.002\\ 5.7 0.007\\ 6.0 0.009\\ 6.3 0.011\\ 6.6 0.009\\ 6.9 0.012\\ 7.2 0.01\\ 7.5 0.011\\ 7.8 0.009\\ 8.1 0.012\\ 8.4 0.01\\ 8.7 0.011\\ 9.0 0.013\\ 9.3 0.01\\ 9.6 0.012\\ 9.9 0.009\\ 10.2 0.011\\ 10.5 0.01\\ 10.8 0.012\\ 11.1 0.009\\ 11.4 0.011\\ 11.7 0.01\\ 12.0 0.012\\ 12.3 0.01\\ 12.6 0.011\\ 12.9 0.009\\ 13.2 0.011\\ 13.5 0.01\\ 13.8 0.012\\ 14.1 0.01\\ 14.4 0.011\\ 14.7 0.009\\ 15.0 0.011\\ 15.3 0.01\\ 15.5 0.008\\ 15.7 0.004\\ 15.85 0.001\\
15.85 -0.001\\ 15.7 -0.004\\ 15.5 -0.009\\ 15.3 -0.011\\ 15.0 -0.009\\ 14.7 -0.012\\ 14.4 -0.01\\ 14.1 -0.011\\ 13.8 -0.009\\ 13.5 -0.012\\ 13.2 -0.01\\ 12.9 -0.011\\ 12.6 -0.009\\ 12.3 -0.012\\ 12.0 -0.01\\ 11.7 -0.011\\ 11.4 -0.009\\ 11.1 -0.011\\ 10.8 -0.01\\ 10.5 -0.012\\ 10.2 -0.009\\ 9.9 -0.011\\ 9.6 -0.01\\ 9.3 -0.013\\ 9.0 -0.011\\ 8.7 -0.01\\ 8.4 -0.012\\ 8.1 -0.009\\ 7.8 -0.011\\ 7.5 -0.01\\ 7.2 -0.012\\ 6.9 -0.009\\ 6.6 -0.011\\ 6.3 -0.01\\ 6.0 -0.009\\ 5.7 -0.006\\ 5.5 -0.002\\
}\bBiii
\pgfplotstableread[row sep=\\]{x y\\
4.0 0.002\\ 4.1 -0.003\\ 4.2 0.003\\ 4.3 -0.002\\ 4.4 0.003\\ 4.5 -0.003\\ 4.6 0.002\\ 4.7 -0.003\\ 4.8 0.003\\ 4.9 -0.002\\ 5.0 0.003\\ 5.1 -0.003\\
5.2 0.012\\ 5.3 -0.015\\ 5.4 0.02\\ 5.5 -0.013\\ 5.6 0.016\\ 5.7 -0.018\\ 5.8 0.022\\ 5.9 -0.014\\ 6.0 0.018\\ 6.1 -0.016\\ 6.2 0.021\\ 6.3 -0.017\\ 6.4 0.017\\ 6.5 -0.02\\ 6.6 0.023\\ 6.7 -0.015\\ 6.8 0.019\\ 6.9 -0.018\\ 7.0 0.024\\ 7.1 -0.019\\ 7.2 0.02\\ 7.3 -0.021\\ 7.4 0.025\\ 7.5 -0.017\\ 7.6 0.022\\ 7.7 -0.02\\ 7.8 0.023\\ 7.9 -0.024\\ 8.0 0.028\\ 8.1 -0.028\\ 8.2 0.021\\ 8.3 -0.02\\ 8.4 0.026\\ 8.5 -0.022\\ 8.6 0.024\\ 8.7 -0.019\\ 8.8 0.027\\ 8.9 -0.023\\ 9.0 0.025\\ 9.1 -0.021\\ 9.2 0.03\\ 9.3 -0.024\\ 9.4 0.026\\ 9.5 -0.022\\ 9.6 0.039\\ 9.7 -0.025\\ 9.8 0.028\\ 9.9 -0.031\\ 10.0 0.03\\ 10.1 -0.024\\ 10.2 0.027\\ 10.3 -0.026\\ 10.4 0.031\\ 10.5 -0.023\\ 10.6 0.028\\ 10.7 -0.027\\ 10.8 0.033\\ 10.9 -0.025\\ 11.0 0.029\\ 11.1 -0.028\\ 11.2 0.032\\ 11.3 -0.026\\ 11.4 0.035\\ 11.5 -0.03\\ 11.6 0.031\\ 11.7 -0.027\\ 11.8 0.045\\ 11.9 -0.033\\ 12.0 0.034\\ 12.1 -0.042\\ 12.2 0.048\\ 12.3 -0.03\\ 12.4 0.036\\ 12.5 -0.033\\ 12.6 0.04\\ 12.7 -0.029\\ 12.8 0.035\\ 12.9 -0.034\\ 13.0 0.043\\ 13.1 -0.031\\ 13.2 0.037\\ 13.3 -0.035\\ 13.4 0.034\\ 13.5 -0.03\\ 13.6 0.039\\ 13.7 -0.033\\ 13.8 0.036\\ 13.9 -0.037\\ 14.0 0.041\\ 14.1 -0.048\\ 14.2 0.038\\ 14.3 -0.036\\ 14.4 0.048\\ 14.5 -0.034\\ 14.6 0.04\\ 14.7 -0.038\\ 14.8 0.044\\ 14.9 -0.035\\ 15.0 0.056\\ 15.1 -0.04\\ 15.2 0.045\\ 15.3 -0.036\\ 15.4 0.05\\ 15.5 -0.044\\ 15.6 0.042\\ 15.7 -0.035\\ 15.8 0.02\\ 15.9 -0.006\\ 16.0 0.001\\ 16.1 0\\ 18.0 0\\
}\eCiii
\pgfplotstableread[row sep=\\]{x y\\
5.25 -0.013\\ 5.35 0.017\\ 5.45 -0.016\\ 5.55 0.014\\ 5.65 -0.015\\ 5.75 0.019\\ 5.85 -0.017\\ 5.95 0.015\\ 6.05 -0.019\\ 6.15 0.02\\ 6.25 -0.015\\ 6.35 0.018\\ 6.45 -0.021\\ 6.55 0.017\\ 6.65 -0.016\\ 6.75 0.022\\ 6.85 -0.02\\ 6.95 0.018\\ 7.05 -0.017\\ 7.15 0.023\\ 7.25 -0.02\\ 7.35 0.019\\ 7.45 -0.023\\ 7.55 0.021\\ 7.65 -0.018\\ 7.75 0.026\\ 7.85 -0.021\\ 7.95 0.02\\ 8.05 -0.023\\ 8.15 0.025\\ 8.25 -0.022\\ 8.35 0.021\\ 8.45 -0.025\\ 8.55 0.027\\ 8.65 -0.021\\ 8.75 0.023\\ 8.85 -0.026\\ 8.95 0.022\\ 9.05 -0.024\\ 9.15 0.028\\ 9.25 -0.022\\ 9.35 0.025\\ 9.45 -0.027\\ 9.55 0.024\\ 9.65 -0.023\\ 9.75 0.03\\ 9.85 -0.024\\ 9.95 0.026\\ 10.05 -0.028\\ 10.15 0.025\\ 10.25 -0.024\\ 10.35 0.032\\ 10.45 -0.026\\ 10.55 0.027\\ 10.65 -0.029\\ 10.75 0.026\\ 10.85 -0.025\\ 10.95 0.031\\ 11.05 -0.027\\ 11.15 0.028\\ 11.25 -0.03\\ 11.35 0.027\\ 11.45 -0.026\\ 11.55 0.036\\ 11.65 -0.028\\ 11.75 0.03\\ 11.85 -0.032\\ 11.95 0.033\\ 12.05 -0.029\\ 12.15 0.031\\ 12.25 -0.035\\ 12.35 0.042\\ 12.45 -0.03\\ 12.55 0.032\\ 12.65 -0.033\\ 12.75 0.038\\ 12.85 -0.031\\ 12.95 0.034\\ 13.05 -0.036\\ 13.15 0.033\\ 13.25 -0.03\\ 13.35 0.04\\ 13.45 -0.034\\ 13.55 0.035\\ 13.65 -0.037\\ 13.75 0.033\\ 13.85 -0.032\\ 13.95 0.044\\ 14.05 -0.036\\ 14.15 0.037\\ 14.25 -0.041\\ 14.35 0.036\\ 14.45 -0.035\\ 14.55 0.046\\ 14.65 -0.037\\ 14.75 0.04\\ 14.85 -0.043\\ 14.95 0.038\\ 15.05 -0.036\\ 15.15 0.052\\ 15.25 -0.04\\ 15.35 0.042\\ 15.45 -0.039\\ 15.55 0.047\\ 15.65 -0.036\\ 15.75 0.025\\ 15.85 -0.008\\
}\eCiiiB
\pgfplotstableread[row sep=\\]{x y\\
4.0 0.0018\\ 5.1 0.0018\\ 5.2 0.006\\ 5.5 0.009\\ 5.8 0.008\\ 6.1 0.01\\ 6.4 0.009\\ 6.7 0.011\\ 7.0 0.01\\ 7.3 0.012\\ 7.6 0.01\\ 7.9 0.012\\ 8.2 0.011\\ 8.5 0.013\\ 8.8 0.012\\ 9.1 0.014\\ 9.4 0.012\\ 9.7 0.014\\ 10.0 0.013\\ 10.3 0.015\\ 10.6 0.013\\ 10.9 0.016\\ 11.2 0.014\\ 11.5 0.017\\ 11.8 0.015\\ 12.1 0.018\\ 12.4 0.016\\ 12.7 0.018\\ 13.0 0.017\\ 13.3 0.019\\ 13.6 0.017\\ 13.9 0.02\\ 14.2 0.018\\ 14.5 0.021\\ 14.8 0.019\\ 15.1 0.022\\ 15.4 0.02\\ 15.6 0.021\\ 15.75 0.012\\ 15.85 0.004\\ 15.95 0.001\\
15.95 -0.001\\ 15.85 -0.004\\ 15.75 -0.013\\ 15.6 -0.02\\ 15.4 -0.022\\ 15.1 -0.019\\ 14.8 -0.021\\ 14.5 -0.018\\ 14.2 -0.02\\ 13.9 -0.017\\ 13.6 -0.019\\ 13.3 -0.016\\ 13.0 -0.018\\ 12.7 -0.016\\ 12.4 -0.017\\ 12.1 -0.015\\ 11.8 -0.016\\ 11.5 -0.014\\ 11.2 -0.015\\ 10.9 -0.013\\ 10.6 -0.015\\ 10.3 -0.012\\ 10.0 -0.014\\ 9.7 -0.012\\ 9.4 -0.013\\ 9.1 -0.011\\ 8.8 -0.012\\ 8.5 -0.011\\ 8.2 -0.012\\ 7.9 -0.01\\ 7.6 -0.011\\ 7.3 -0.01\\ 7.0 -0.011\\ 6.7 -0.009\\ 6.4 -0.01\\ 6.1 -0.009\\ 5.8 -0.009\\ 5.5 -0.008\\ 5.2 -0.005\\ 5.1 -0.0018\\ 4.0 -0.0018\\
}\bCiii

\pgfplotsset{
  base/.style={scale only axis, anchor=south west, xmin=4, xmax=18,
    xtick={4,6,...,18}, xticklabels={}, tick align=inside, major tick length=5bp,
    clip=false, axis x line=bottom, scaled y ticks=false, scaled x ticks=false,
    axis line style={-, draw=black!75, line width=0.6pt},
    tick style={draw=black!75, line width=0.6pt}},
  forcerow/.style={base, ymin=-3, ymax=200, height=102bp},
  emgrow/.style={base, ymin=-0.057, ymax=0.058, height=103.5bp},
  colA/.style={width=312bp, axis y line=left, ytick style={draw=none},
    yticklabel style={font=\fontsize{15}{15}\selectfont, xshift=-2bp}},
  colB/.style={width=314bp, axis y line=none, ytick=\empty},
  colC/.style={width=313bp, axis y line=none, ytick=\empty},
  frc/.style={black!85, line width=0.6pt},
  sig/.style={black!90, line width=0.5pt},
  sigb/.style={black!80, line width=0.45pt},
  band/.style={fill=black, draw=none},
  emgticks/.style={ytick={-0.05,0,0.05}, yticklabels={-0.05,0,0.05}},
  forceticks/.style={ytick={0,50,100,150,200}, yticklabels={0,50,100,150,200}},
  dots/.style={scale only axis, anchor=south west, xmin=4, xmax=18, ymin=0, ymax=1, hide axis, height=532bp},
  vdot/.style={black, line width=2pt, dash pattern=on 1.5pt off 1pt},
}

\newcommand{\bigfont}{\fontsize{22}{26}\bfseries\selectfont}
\newcommand{\midfont}{\fontsize{16}{19}\selectfont}

\begin{document}
\begin{tikzpicture}
\useasboundingbox (0,0) rectangle (1070bp,-662bp);

% ===== Force row =====
\begin{axis}[forcerow, colA, forceticks, at={(74bp,-201bp)}]
  \addplot[frc] table[x=x,y=y]{\fA};
\end{axis}
\begin{axis}[forcerow, colB, at={(404bp,-201bp)}]
  \addplot[frc] table[x=x,y=y]{\fB};
\end{axis}
\begin{axis}[forcerow, colC, at={(728bp,-201bp)}]
  \addplot[frc] table[x=x,y=y]{\fCtot};
  \addplot[frc] table[x=x,y=y]{\fCnon};
  \addplot[black!60, line width=0.6pt] table[x=x,y=y]{\fCimp};
  \node[anchor=east, font=\midfont] at (axis cs:15.67,179) {Total force};
  \node[anchor=east, font=\midfont] at (axis cs:15.67,97) {Non-impaired};
  \node[anchor=east, font=\midfont] at (axis cs:15.67,49) {Impaired};
\end{axis}

% ===== Impaired EMG row =====
\begin{axis}[emgrow, colA, emgticks, at={(74bp,-431.5bp)}]
  \addplot[band] table[x=x,y=y]{\bAii};
  \addplot[sigb] table[x=x,y=y]{\eAiiB};
  \addplot[sig] table[x=x,y=y]{\eAii};
\end{axis}
\begin{axis}[emgrow, colB, at={(404bp,-431.5bp)}]
  \addplot[band] table[x=x,y=y]{\bBii};
  \addplot[sigb] table[x=x,y=y]{\eBiiB};
  \addplot[sig] table[x=x,y=y]{\eBii};
\end{axis}
\begin{axis}[emgrow, colC, at={(728bp,-431.5bp)}]
  \addplot[band] table[x=x,y=y]{\bCii};
  \addplot[sigb] table[x=x,y=y]{\eCiiB};
  \addplot[sig] table[x=x,y=y]{\eCii};
\end{axis}

% ===== Non-impaired EMG row =====
\begin{axis}[emgrow, colA, emgticks, at={(74bp,-633.5bp)},
    xticklabels={4,6,8,10,12,14,16,18},
    xticklabel style={font=\fontsize{15}{15}\selectfont, anchor=base, yshift=-21bp}]
  \addplot[band] table[x=x,y=y]{\bAiii};
  \addplot[sig] table[x=x,y=y]{\eAiii};
\end{axis}
\begin{axis}[emgrow, colB, at={(404bp,-633.5bp)}]
  \addplot[band] table[x=x,y=y]{\bBiii};
  \addplot[sigb] table[x=x,y=y]{\eBiiiB};
  \addplot[sig] table[x=x,y=y]{\eBiii};
\end{axis}
\begin{axis}[emgrow, colC, at={(728bp,-633.5bp)}]
  \addplot[band] table[x=x,y=y]{\bCiii};
  \addplot[sigb] table[x=x,y=y]{\eCiiiB};
  \addplot[sig] table[x=x,y=y]{\eCiii};
\end{axis}

% ===== dotted markers at 10 s and 12 s =====
\begin{axis}[dots, width=312bp, at={(74bp,-630bp)}]
  \addplot[vdot] coordinates {(10,0) (10,1)};
  \addplot[vdot] coordinates {(12,0) (12,1)};
\end{axis}
\begin{axis}[dots, width=314bp, at={(404bp,-630bp)}]
  \addplot[vdot] coordinates {(10,0) (10,1)};
  \addplot[vdot] coordinates {(12,0) (12,1)};
\end{axis}
\begin{axis}[dots, width=313bp, at={(728bp,-630bp)}]
  \addplot[vdot] coordinates {(10,0) (10,1)};
  \addplot[vdot] coordinates {(12,0) (12,1)};
\end{axis}

% ===== titles and labels =====
\node[anchor=base, font=\bigfont] at (230bp,-28.5bp) {A.};
\node[anchor=base, font=\bigfont] at (228bp,-56bp) {Unilateral};
\node[anchor=base, font=\bigfont] at (229bp,-83.5bp) {(Impaired)};
\node[anchor=base, font=\bigfont] at (547bp,-28.5bp) {B.};
\node[anchor=base, font=\bigfont] at (559bp,-56bp) {Unilateral};
\node[anchor=base, font=\bigfont] at (563bp,-83.5bp) {(Non-impaired)};
\node[anchor=base, font=\bigfont] at (873bp,-28.5bp) {C.};
\node[anchor=base, font=\bigfont] at (882bp,-56bp) {Bilateral};
\node[anchor=base, font=\bigfont] at (882bp,-83.5bp) {(Impaired + Non-impaired)};

\node[anchor=base west, font=\bigfont, inner sep=0pt] at (17bp,-61.7bp) {Force};
\node[anchor=base, font=\midfont] at (80.5bp,-85bp) {(N.)};
\node[anchor=base west, font=\bigfont, inner sep=0pt] at (13bp,-277.3bp) {Impaired EMG};
\node[anchor=base west, font=\midfont, inner sep=0pt] at (73bp,-324bp) {(mV.)};
\node[anchor=base west, font=\bigfont, inner sep=0pt] at (13bp,-481.7bp) {Non-impaired EMG};
\node[anchor=base west, font=\midfont, inner sep=0pt] at (73bp,-521bp) {(mV.)};
\node[anchor=base, font=\midfont] at (1046bp,-621bp) {(s.)};
\end{tikzpicture}
\end{document}
